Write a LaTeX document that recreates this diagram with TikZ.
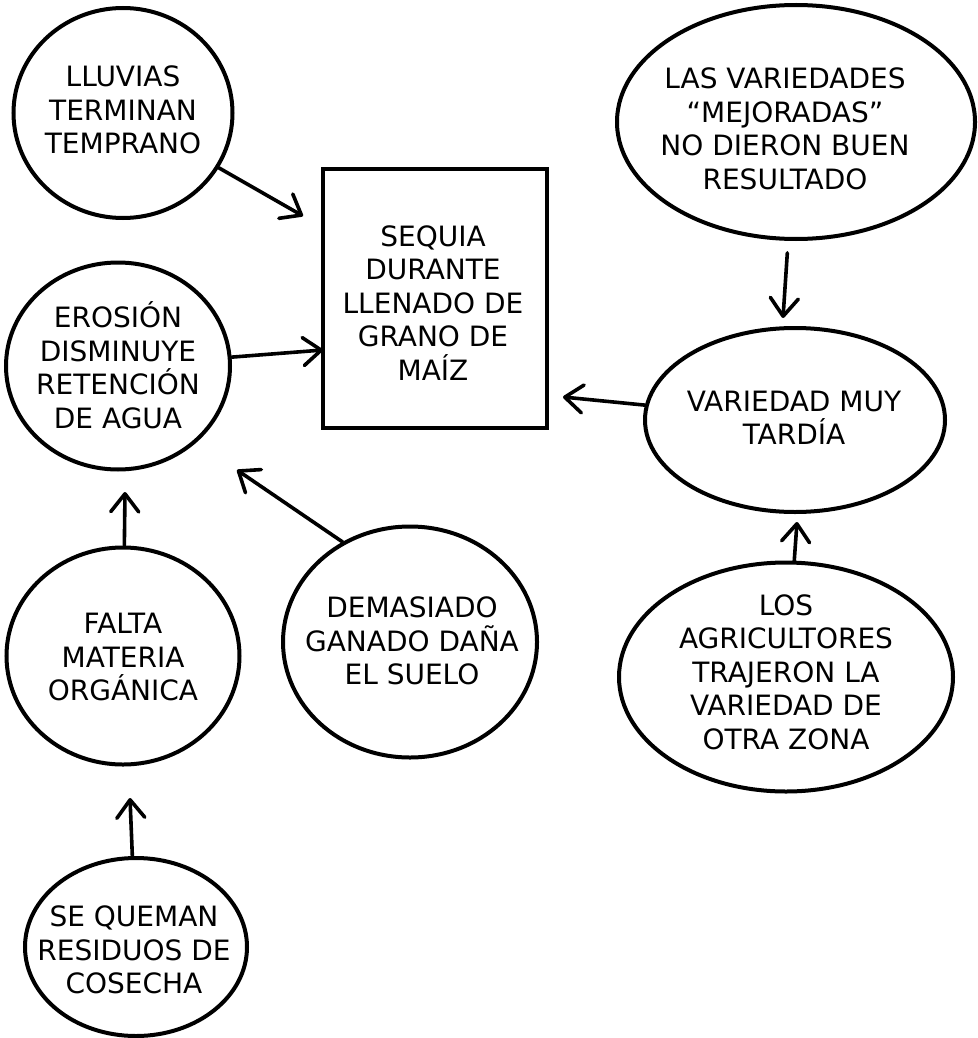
\documentclass[tikz,border=0pt]{standalone}
\usepackage{fontspec}
\setmainfont{DejaVu Sans}
\usetikzlibrary{shapes.geometric,arrows.meta}
\tikzset{
  blob/.style={ellipse, draw=black, line width=4pt, inner sep=0pt},
  boxshape/.style={rectangle, draw=black, line width=4pt, inner sep=0pt},
  txt/.style={align=center, inner sep=0pt, font=\fontsize{28}{33.5}\selectfont},
  arr/.style={line width=3.6pt, line cap=round, line join=round,
    -{Straight Barb[length=18pt,width=28pt,round]}}
}
\begin{document}
\begin{tikzpicture}[x=1pt,y=-1pt]
\useasboundingbox (0,0) rectangle (977,1038);
% shapes
\node[blob, minimum width=219pt, minimum height=210pt] (lluvias) at (123,113) {};
\node[blob, minimum width=224pt, minimum height=207pt] (erosion) at (118,366) {};
\node[boxshape, minimum width=224pt, minimum height=259pt] (rect) at (435,298) {};
\node[blob, minimum width=233pt, minimum height=217pt] (falta) at (123,656) {};
\node[blob, minimum width=222pt, minimum height=178pt] (sequeman) at (136,947) {};
\node[blob, minimum width=254pt, minimum height=231pt] (demasiado) at (410,642) {};
\node[blob, minimum width=358pt, minimum height=234pt] (lasvar) at (796,122) {};
\node[blob, minimum width=300pt, minimum height=184pt] (variedad) at (795,420) {};
\node[blob, minimum width=334pt, minimum height=229pt] (losagr) at (786,677) {};
% texts
\node[txt] (lluvias-t) at (123,110) {LLUVIAS\\TERMINAN\\TEMPRANO};
\node[txt] (erosion-t) at (118,365) {EROSIÓN\\DISMINUYE\\RETENCIÓN\\DE AGUA};
\node[txt] (rect-t) at (433,303) {SEQUIA\\DURANTE\\LLENADO DE\\GRANO DE\\MAÍZ};
\node[txt] (falta-t) at (123,657) {FALTA\\MATERIA\\ORGÁNICA};
\node[txt] (sequeman-t) at (134,950) {SE QUEMAN\\RESIDUOS DE\\COSECHA};
\node[txt] (demasiado-t) at (412,641) {DEMASIADO\\GANADO DAÑA\\EL SUELO};
\node[txt] (lasvar-t) at (785,129) {LAS VARIEDADES\\“MEJORADAS”\\NO DIERON BUEN\\RESULTADO};
\node[txt] (variedad-t) at (794,418) {VARIEDAD MUY\\TARDÍA};
\node[txt] (losagr-t) at (786,672) {LOS\\AGRICULTORES\\TRAJERON LA\\VARIEDAD DE\\OTRA ZONA};
% arrow tips
\coordinate (tipA) at (303,216);
\coordinate (tipB) at (323,350);
\coordinate (tipC) at (563,397);
\coordinate (tipD) at (783,318);
\coordinate (tipE) at (797,522);
\coordinate (tipF) at (125,492);
\coordinate (tipG) at (237,470);
\coordinate (tipH) at (130,798);
% connectors
\draw[arr] (lluvias) -- (tipA);
\draw[arr] (erosion) -- (tipB);
\draw[arr] (variedad) -- (tipC);
\draw[arr, shorten <=12pt] (lasvar) -- (tipD);
\draw[arr] (losagr) -- (tipE);
\draw[arr] (falta) -- (tipF);
\draw[arr] (demasiado.124) -- (tipG);
\draw[arr] (sequeman) -- (tipH);
\end{tikzpicture}
\end{document}
